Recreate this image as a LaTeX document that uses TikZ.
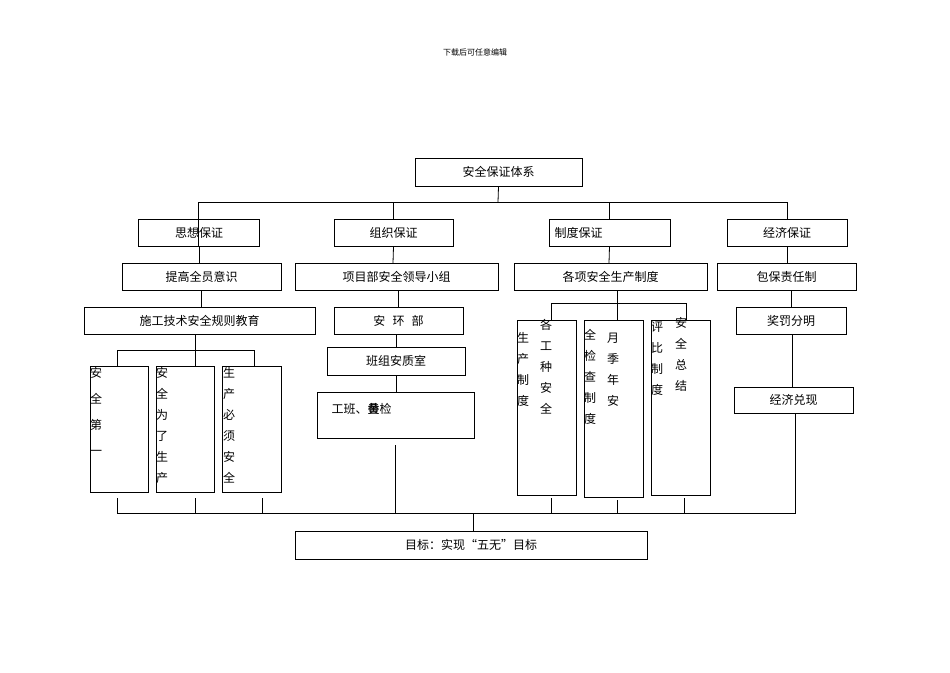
\documentclass[tikz,border=0pt]{standalone}
\usepackage{fontspec}
\setmainfont{Noto Sans CJK SC}
\begin{document}
\begin{tikzpicture}[x=1pt,y=-1pt,line width=0.8pt,
 bx/.style={draw,inner sep=0},
 tx/.style={font=\fontsize{12}{14}\selectfont},
 col/.style={anchor=north,inner sep=0,align=center,font=\fontsize{12}{#1}\selectfont},
 col/.default=21]
\useasboundingbox (0,0) rectangle (950,672);
\newcommand\bx[6]{\node[bx,minimum width=#4-#2,minimum height=#5-#3] (#1) at ({(#2+#4)/2},{(#3+#5)/2}) {}; \node[tx] at (#1) {#6};}
\node[font=\fontsize{8}{10}\selectfont] (hd) at (475,52) {下载后可任意编辑};
\bx{top}{415}{158}{582}{186}{安全保证体系}
\node[bx,minimum width=121,minimum height=27] (b2a) at (199,232.5) {}; \node[tx] at (b2a) {思想保证};
\node[bx,minimum width=119,minimum height=27] (b2b) at (393.5,232.5) {}; \node[tx] at (b2b) {组织保证};
\node[bx,minimum width=121,minimum height=27] (b2c) at (609.5,232.5) {}; \node[tx,anchor=west] at (551,232.5) {制度保证};
\node[bx,minimum width=120,minimum height=27] (b2d) at (787,232.5) {}; \node[tx] at (b2d) {经济保证};
\node[bx,minimum width=159,minimum height=27] (b3a) at (201.5,276.5) {}; \node[tx] at (b3a) {提高全员意识};
\node[bx,minimum width=203,minimum height=27] (b3b) at (396.5,276.5) {}; \node[tx] at (b3b) {项目部安全领导小组};
\node[bx,minimum width=193,minimum height=27] (b3c) at (610.5,276.5) {}; \node[tx] at (b3c) {各项安全生产制度};
\node[bx,minimum width=139,minimum height=27] (b3d) at (786.5,276.5) {}; \node[tx] at (b3d) {包保责任制};
\node[bx,minimum width=231,minimum height=27] (b4a) at (199.5,320.5) {}; \node[tx] at (b4a) {施工技术安全规则教育};
\node[bx,minimum width=129,minimum height=27] (b4b) at (398.5,320.5) {}; \node[tx] at (b4b) {安\hspace{0.6em}环\hspace{0.6em}部};
\node[bx,minimum width=110,minimum height=27] (b4d) at (791,320.5) {}; \node[tx] at (b4d) {奖罚分明};
\node[bx,minimum width=138,minimum height=28] (b5b) at (396,361) {}; \node[tx] at (b5b) {班组安质室};
\node[bx,minimum width=157,minimum height=46] (b6b) at (395.5,415) {}; \node[tx,anchor=west] at (328,409) {工班、\rlap{黄}叠检};
\node[bx,minimum width=119,minimum height=26] (b5d) at (793.5,400) {}; \node[tx] at (b5d) {经济兑现};
% left vertical boxes
\node[bx,minimum width=58,minimum height=126] (v1) at (119,429) {}; \node[col=26] at (96,367) {安\\全\\第\\一};
\node[bx,minimum width=58,minimum height=126] (v2) at (185,429) {}; \node[col] at (162,367) {安\\全\\为\\了\\生\\产};
\node[bx,minimum width=59,minimum height=126] (v3) at (251.5,429) {}; \node[col] at (229,367) {生\\产\\必\\须\\安\\全};
% right vertical boxes
\node[bx,minimum width=59,minimum height=175] (r1) at (546.5,407.5) {}; \node[col] at (523,332) {生\\产\\制\\度}; \node[col] at (546,319) {各\\工\\种\\安\\全};
\node[bx,minimum width=59,minimum height=177] (r2) at (613.5,408.5) {}; \node[col] at (590,329) {全\\检\\查\\制\\度}; \node[col] at (613,333) {月\\季\\年\\安};
\node[bx,minimum width=59,minimum height=175] (r3) at (680.5,407.5) {}; \node[col] at (657,321) {评\\比\\制\\度}; \node[col] at (681,317) {安\\全\\总\\结};
\node[bx,minimum width=352,minimum height=28] (goal) at (471,545) {}; \node[tx] at (goal) {目标：实现“五无”目标};
% connectors
\coordinate (t1) at (498,202);
\draw (top.south) -- (t1);
\draw (198,246) -- (198,202) -- (787,202) -- (787,219);
\draw (393,202) -- (393,219); \draw (609,202) -- (609,219);
\draw (b2a.south) -- (b3a.north-|b2a); \draw (201,290) -- (201,307);
\draw (b2b.south) -- (393,263); \draw (398,290) -- (398,307);
\draw (396,334) -- (396,347); \draw (396,375) -- (396,392);
\draw (b2c.south) -- (609,263); \draw (b2d.south) -- (787,263);
\draw (791,290) -- (791,307); \draw (792,334) -- (792,387);
\draw (195,334) -- (195,366); \draw (117,366) -- (117,350) -- (254,350) -- (254,366);
\draw (617,290) -- (617,320); \draw (551,320) -- (551,303) -- (686,303) -- (686,320);
\draw (117,498) -- (117,513) -- (795,513) -- (795,413);
\draw (195,498) -- (195,513); \draw (262,498) -- (262,513);
\draw (395,445) -- (395,513);
\draw (551,498) -- (551,513); \draw (617,500) -- (617,513); \draw (684,498) -- (684,513);
\draw (473,513) -- (goal.north-|473,0);
\end{tikzpicture}
\end{document}
